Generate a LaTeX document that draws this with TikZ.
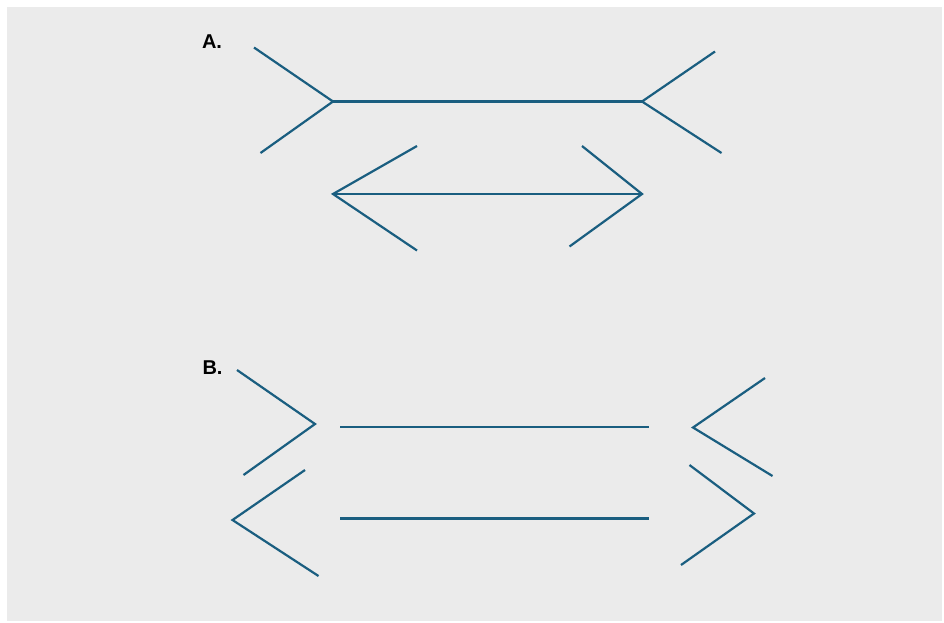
\documentclass[tikz,border=0pt]{standalone}
\usepackage{fontspec}
\setmainfont{Liberation Sans}
\definecolor{bgray}{HTML}{EBEBEB}
\definecolor{lineblue}{RGB}{26,94,128}
\begin{document}
\begin{tikzpicture}[x=1pt,y=-1pt,
  fin/.style={draw=lineblue,line width=2.2pt,line cap=butt,line join=miter},
  lbl/.style={font=\fontsize{20}{20}\selectfont\bfseries,inner sep=0pt,text=black}]
\useasboundingbox (0,0) rectangle (944,622);
\fill[white] (0,0) rectangle (944,622);
\fill[bgray] (7,7) rectangle (942,621);
% Labels
\node[lbl] (labA) at (212,42) {A.};
\node[lbl] (labB) at (212.5,367.5) {B.};
% A: top figure (fins outward)
\draw[fin] (254,47.5) -- (333,101.5) -- (260.5,153);
\draw[fin] (333,101.5) -- (642,101.5);
\draw[fin] (715,51.5) -- (642,101.5) -- (721.5,153);
% A: bottom figure (arrowheads)
\draw[fin] (417,146) -- (333,194) -- (417,250.5);
\draw[fin] (333,194) -- (642,194);
\draw[fin] (582,146) -- (642,194) -- (569.5,246.5);
% B: top
\draw[fin] (237,370) -- (315,424) -- (243.5,475);
\draw[fin] (340,427) -- (649,427);
\draw[fin] (765,378) -- (693,427.5) -- (772.5,476);
% B: bottom
\draw[fin] (305,470) -- (232.5,520) -- (318.5,576);
\draw[fin] (340,518.5) -- (649,518.5);
\draw[fin] (689.5,465) -- (754,513.5) -- (681,565);
\end{tikzpicture}
\end{document}
